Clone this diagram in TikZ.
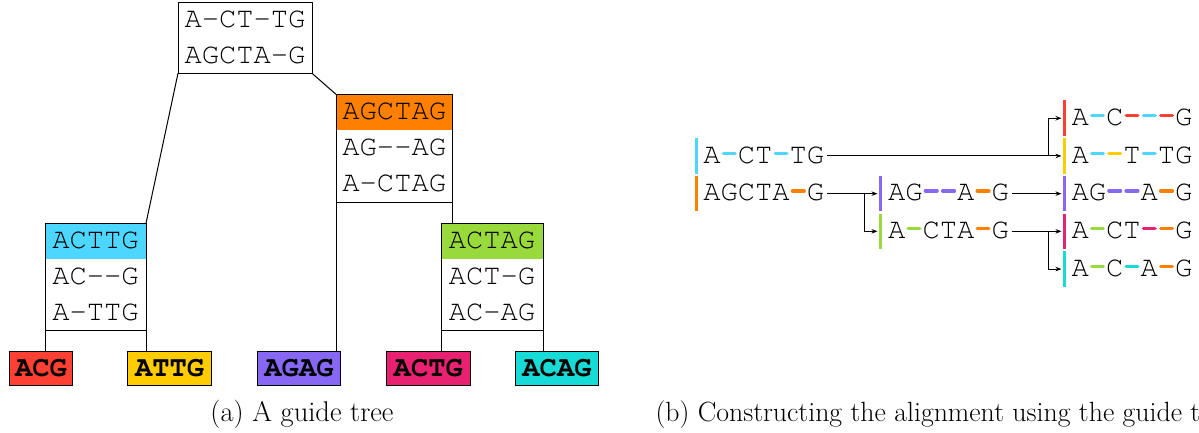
\documentclass[tikz,border=0pt]{standalone}
\usepackage[T1,TU]{fontenc}
\usetikzlibrary{arrows.meta,calc}
\newcommand\cour{\fontencoding{T1}\fontfamily{pcr}\fontseries{m}\fontshape{n}\fontsize{28.8}{30}\selectfont}
\newcommand\courb{\fontencoding{T1}\fontfamily{pcr}\fontseries{b}\fontshape{n}\fontsize{28.8}{30}\selectfont}
\newcommand\capfont{\fontsize{28.5}{34}\selectfont}
\newcommand\capfontb{\fontsize{27.8}{33}\selectfont}
\newcommand\gp{\phantom{-}}
\definecolor{cA}{RGB}{77,214,255}
\definecolor{cB}{RGB}{255,128,0}
\definecolor{cC}{RGB}{152,218,60}
\definecolor{lR}{RGB}{255,64,50}
\definecolor{lY}{RGB}{255,204,0}
\definecolor{lP}{RGB}{135,104,245}
\definecolor{lK}{RGB}{232,34,112}
\definecolor{lT}{RGB}{22,219,214}
\tikzset{
  tbox/.style={draw, inner sep=0pt, outer sep=0pt},
  hdr/.style={path picture={\fill[#1] (path picture bounding box.north west) rectangle ($(path picture bounding box.north east)+(0,35.7)$);}},
  leaf/.style={draw, inner sep=0pt, outer sep=0pt, minimum height=33.6pt, font=\courb},
  rowtxt/.style={inner sep=0pt, outer sep=0pt, anchor=base, font=\cour},
  seq/.style={inner sep=0pt, outer sep=0pt, anchor=base west, font=\cour},
  vbar/.style={inner sep=0pt, outer sep=0pt, minimum width=3pt, minimum height=35.5pt},
  dashbar/.style={line width=3.4pt, line cap=round},
  arr/.style={-{Stealth[length=6pt,width=4.5pt]}, shorten >=1.5pt},
  captxt/.style={inner sep=0pt, font=\capfont},
}
\newcommand\dsh[3]{\draw[dashbar,#3] ($(#1.base west)+({#2*17.28+2.8},-10)$) -- ($(#1.base west)+({(#2+1)*17.28-2.8},-10)$);}
\begin{document}
\begin{tikzpicture}[x=1pt, y=-1pt, line width=1pt]
\useasboundingbox (0,0) rectangle (1199,433);
% ---------- (a) guide tree ----------
\node[tbox, minimum width=134pt, minimum height=70.6pt] (root) at (245,38) {};
\node[rowtxt] (root1) at (245,28) {A-{}CT-{}TG};
\node[rowtxt] (root2) at (245,63.3) {AGCTA-{}G};

\node[tbox, hdr=cB, minimum width=116.5pt, minimum height=107.7pt] (orange) at (394.25,148.15) {};
\node[rowtxt] (or1) at (394.25,119.8) {AGCTAG};
\node[rowtxt] (or2) at (394.25,155.7) {AG-{}-{}AG};
\node[rowtxt] (or3) at (394.25,191.6) {A-{}CTAG};

\node[tbox, hdr=cA, minimum width=101pt, minimum height=107.2pt] (cyan) at (95.5,276.9) {};
\node[rowtxt] (cy1) at (95.5,248.7) {ACTTG};
\node[rowtxt] (cy2) at (95.5,284.4) {AC-{}-{}G};
\node[rowtxt] (cy3) at (95.5,320.1) {A-{}TTG};

\node[tbox, hdr=cC, minimum width=102pt, minimum height=107.2pt] (green) at (492,276.9) {};
\node[rowtxt] (gr1) at (492,248.7) {ACTAG};
\node[rowtxt] (gr2) at (492,284.4) {ACT-{}G};
\node[rowtxt] (gr3) at (492,320.1) {AC-{}AG};

\node[leaf, fill=lR, minimum width=63.4pt] (l1) at (41,368.5) {ACG};
\node[leaf, fill=lY, minimum width=84pt] (l2) at (169.7,368.5) {ATTG};
\node[leaf, fill=lP, minimum width=83.5pt] (l3) at (299,368.5) {AGAG};
\node[leaf, fill=lK, minimum width=83.5pt] (l4) at (428.3,368.5) {ACTG};
\node[leaf, fill=lT, minimum width=83.5pt] (l5) at (557,368.5) {ACAG};

\draw (root.south west) -- (cyan.north east);
\draw (root.south east) -- (orange.north west);
\draw (orange.south east) -- (orange.south east |- green.north);
\draw (orange.south west) -- (orange.south west |- l3.north);
\draw (cyan.south west) -- (cyan.south west |- l1.north);
\draw (cyan.south east) -- (cyan.south east |- l2.north);
\draw (green.south west) -- (green.south west |- l4.north);
\draw (green.south east) -- (green.south east |- l5.north);

\node[captxt, anchor=base] (capA) at (302,421) {(a) A guide tree};

% ---------- (b) constructing the alignment ----------
% bars
\node[vbar, fill=cA] (bL1) at (696,155.95) {};
\node[vbar, fill=cB] (bL2) at (696,193.65) {};
\node[vbar, fill=lP] (bM1) at (880.5,193.65) {};
\node[vbar, fill=cC] (bM2) at (880.5,231.35) {};
\node[vbar, fill=lR] (bR1) at (1064.5,118.25) {};
\node[vbar, fill=lY] (bR2) at (1064.5,155.95) {};
\node[vbar, fill=lP] (bR3) at (1064.5,193.65) {};
\node[vbar, fill=lK] (bR4) at (1064.5,231.35) {};
\node[vbar, fill=lT] (bR5) at (1064.5,269.05) {};
% sequences
\node[seq] (sL1) at (703.3,163.2) {A\gp CT\gp TG};
\node[seq] (sL2) at (703.3,200.9) {AGCTA\gp G};
\node[seq] (sM1) at (888,200.9) {AG\gp\gp A\gp G};
\node[seq] (sM2) at (888,238.6) {A\gp CTA\gp G};
\node[seq] (sR1) at (1071.5,125.5) {A\gp C\gp\gp\gp G};
\node[seq] (sR2) at (1071.5,163.2) {A\gp\gp T\gp TG};
\node[seq] (sR3) at (1071.5,200.9) {AG\gp\gp A\gp G};
\node[seq] (sR4) at (1071.5,238.6) {A\gp CT\gp\gp G};
\node[seq] (sR5) at (1071.5,276.3) {A\gp C\gp A\gp G};
% coloured gaps
\dsh{sL1}{1}{cA}\dsh{sL1}{4}{cA}
\dsh{sL2}{5}{cB}
\dsh{sM1}{2}{lP}\dsh{sM1}{3}{lP}\dsh{sM1}{5}{cB}
\dsh{sM2}{1}{cC}\dsh{sM2}{5}{cB}
\dsh{sR1}{1}{cA}\dsh{sR1}{3}{lR}\dsh{sR1}{4}{cA}\dsh{sR1}{5}{lR}
\dsh{sR2}{1}{cA}\dsh{sR2}{2}{lY}\dsh{sR2}{4}{cA}
\dsh{sR3}{2}{lP}\dsh{sR3}{3}{lP}\dsh{sR3}{5}{cB}
\dsh{sR4}{1}{cC}\dsh{sR4}{4}{lK}\dsh{sR4}{5}{cB}
\dsh{sR5}{1}{cC}\dsh{sR5}{3}{lT}\dsh{sR5}{5}{cB}
% junctions
\coordinate (jM) at (864.3,0);
\coordinate (jR) at (1048.3,0);
% arrows
\draw[arr, shorten <=2.6pt] (sL1.east |- bL1.center) -- (bR2.west);
\draw[arr] (jR |- bR2.west) |- (bR1.west);
\draw[arr, shorten <=2.6pt] (sL2.east |- bL2.center) -- (bM1.west);
\draw[arr] (jM |- bM1.west) |- (bM2.west);
\draw[arr, shorten <=2.6pt] (sM1.east |- bM1.center) -- (bR3.west);
\draw[arr, shorten <=2.6pt] (sM2.east |- bM2.center) -- (bR4.west);
\draw[arr] (jR |- bR4.west) |- (bR5.west);

\node[captxt, font=\capfontb, anchor=base west] (capB) at (655,421) {(b) Constructing the alignment using the guide tree};
\end{tikzpicture}
\end{document}
